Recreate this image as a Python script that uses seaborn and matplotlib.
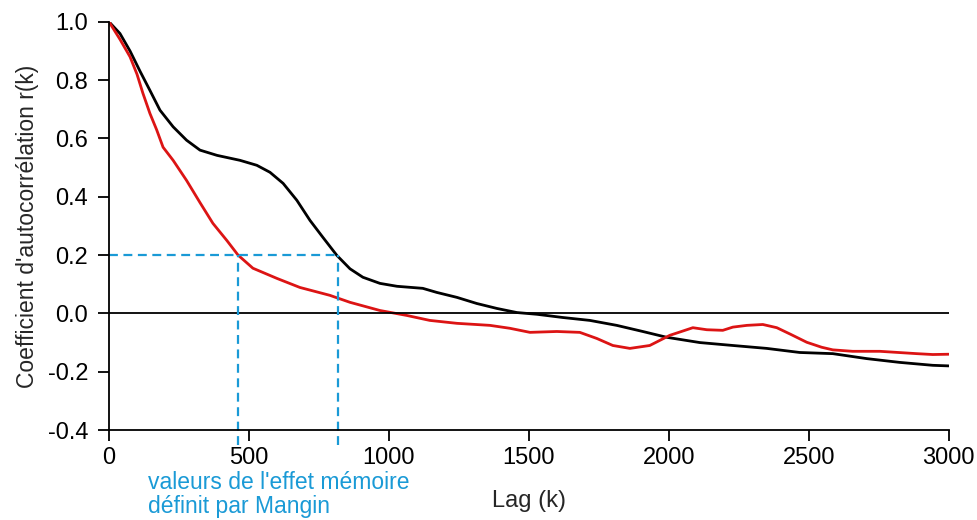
import numpy as np
import pandas as pd
import seaborn as sns
import matplotlib.pyplot as plt

# données
lag_noir = [0, 39, 75, 111, 146, 182, 229, 277, 325, 386, 468, 528, 575, 622, 671, 718, 764, 814,
            861, 907, 968, 1029, 1121, 1171, 1243, 1314, 1386, 1457, 1529, 1621, 1718, 1814, 1907, 1993,
            2111, 2229, 2350, 2468, 2586, 2707, 2825, 2943, 3000]
r_noir = [1.0, 0.96, 0.90, 0.83, 0.765, 0.697, 0.64, 0.594, 0.56, 0.542, 0.525, 0.508, 0.484, 0.446, 0.388, 0.319, 0.261, 0.199,
          0.153, 0.124, 0.103, 0.093, 0.086, 0.072, 0.055, 0.034, 0.017, 0.003, -0.003, -0.014, -0.024, -0.041, -0.062, -0.082,
          -0.10, -0.11, -0.12, -0.134, -0.138, -0.155, -0.168, -0.178, -0.18]

lag_rouge = [0, 39, 75, 100, 121, 146, 170, 193, 229, 277, 325, 371, 421, 461, 514, 600, 682, 789, 861,
             968, 1064, 1146, 1243, 1361, 1432, 1504, 1600, 1682, 1743, 1800, 1861, 1932, 2004, 2039, 2086,
             2136, 2193, 2229, 2279, 2336, 2386, 2436, 2493, 2546, 2586, 2657, 2754, 2886, 2943, 3000]
r_rouge = [1.0, 0.94, 0.88, 0.82, 0.755, 0.686, 0.63, 0.57, 0.525, 0.456, 0.38, 0.309, 0.25, 0.2, 0.155, 0.12, 0.089, 0.062, 0.038,
           0.01, -0.007, -0.024, -0.034, -0.041, -0.051, -0.065, -0.062, -0.065, -0.086, -0.11, -0.12, -0.11, -0.075, -0.064, -0.049,
           -0.056, -0.058, -0.047, -0.041, -0.038, -0.049, -0.072, -0.099, -0.116, -0.125, -0.13, -0.13, -0.138, -0.141, -0.14]

# effet mémoire (r = 0.2)
memoire = [461, 818]
seuil = 0.2

bleu = '#1a9ad6'

sns.set_theme(style='ticks')
plt.rcParams['font.family'] = ['Liberation Sans', 'DejaVu Sans']

df = pd.concat([
    pd.DataFrame({'Lag': lag_noir, 'r': r_noir, 'serie': 'noir'}),
    pd.DataFrame({'Lag': lag_rouge, 'r': r_rouge, 'serie': 'rouge'}),
], ignore_index=True)

fig = plt.figure(figsize=(9.78, 5.2), dpi=100)
ax = fig.add_axes([0.1115, 0.173, 0.8585, 0.785])

sns.lineplot(data=df, x='Lag', y='r', hue='serie', palette={'noir': 'black', 'rouge': '#dc1414'},
             linewidth=2.0, legend=False, ax=ax, sort=False)
for l in ax.lines:
    l.set_solid_joinstyle('round')

ax.axhline(0, color='black', linewidth=1.3)

# lignes pointillées bleues
ax.plot([0, memoire[1]], [seuil, seuil], color=bleu, linestyle=(0, (4, 2.5)), linewidth=1.6)
for m in memoire:
    ax.plot([m, m], [-0.45, seuil], color=bleu, linestyle=(0, (4, 2.5)), linewidth=1.6, clip_on=False)

ax.set_xlim(0, 3000)
ax.set_ylim(-0.4, 1.0)
ax.set_xticks(np.arange(0, 3001, 500))
ax.set_yticks(np.arange(-0.4, 1.01, 0.2))
ax.set_yticklabels(['%.1f' % v for v in np.arange(-0.4, 1.01, 0.2)])
ax.tick_params(labelsize=17, length=8, width=1.3, color='black', labelcolor='black')
ax.tick_params(axis='y', pad=7)
ax.tick_params(axis='x', pad=4)
for s in ['top', 'right']:
    ax.spines[s].set_visible(False)
for s in ['left', 'bottom']:
    ax.spines[s].set_linewidth(1.3)
    ax.spines[s].set_color('black')

ax.set_xlabel('Lag (k)', fontsize=17, labelpad=15)
ax.set_ylabel("Coefficient d'autocorrélation r(k)", fontsize=16.5, labelpad=6)

fig.text(148 / 978, 0.095, "valeurs de l'effet mémoire\ndéfinit par Mangin", color=bleu,
         fontsize=16.5, va='top', ha='left', linespacing=1.1)

fig.savefig('out.png', dpi=100)
